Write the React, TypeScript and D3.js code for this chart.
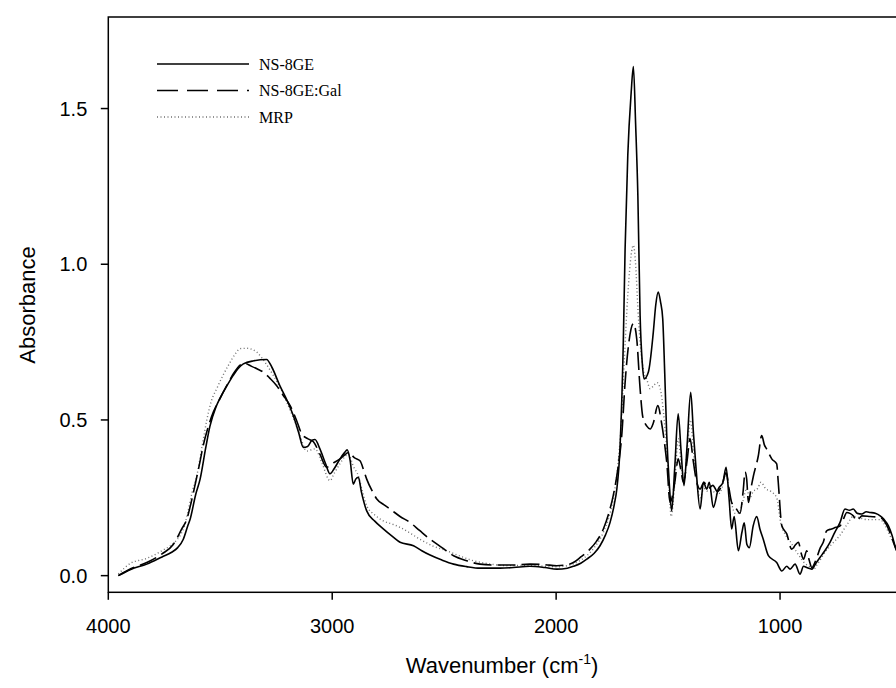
import React from "react";
import * as d3 from "d3";

// ---- Data (wavenumber cm^-1, absorbance) ----
const ns8geWn = [3955,3900,3828,3760,3717,3690,3665,3645,3635,3610,3590,3565,3546,3520,3501,3470,3442,3420,3397,3350,3293,3270,3234,3200,3174,3150,3129,3110,3090,3077,3055,3030,3010,2990,2965,2945,2933,2920,2906,2895,2883,2870,2846,2810,2772,2730,2697,2637,2600,2563,2510,2458,2400,2340,2250,2191,2117,2050,1997,1950,1923,1890,1863,1830,1804,1780,1759,1740,1729,1715,1700,1692,1680,1665,1655,1645,1635,1625,1615,1607,1588,1566,1555,1544,1534,1524,1515,1506,1495,1484,1470,1455,1442,1429,1415,1399,1387,1375,1357,1342,1327,1316,1298,1276,1255,1241,1228,1216,1205,1186,1170,1160,1148,1137,1120,1104,1090,1075,1052,1015,992,970,955,933,911,895,881,858,840,821,800,777,755,732,710,690,673,655,635,615,598,575,553,535,516,500,482,460];
const ns8geAbs = [0.0,0.02,0.037,0.06,0.075,0.09,0.117,0.16,0.18,0.26,0.31,0.41,0.48,0.54,0.57,0.61,0.643,0.665,0.68,0.69,0.694,0.67,0.61,0.56,0.514,0.46,0.412,0.415,0.435,0.437,0.407,0.36,0.327,0.345,0.375,0.395,0.404,0.37,0.294,0.31,0.316,0.27,0.208,0.175,0.15,0.125,0.107,0.096,0.08,0.066,0.05,0.037,0.029,0.024,0.024,0.026,0.03,0.026,0.021,0.024,0.03,0.04,0.053,0.072,0.096,0.13,0.171,0.23,0.278,0.407,0.75,1.05,1.35,1.55,1.635,1.45,1.22,0.836,0.68,0.632,0.654,0.782,0.87,0.911,0.88,0.825,0.65,0.45,0.3,0.208,0.35,0.52,0.4,0.289,0.42,0.589,0.46,0.343,0.214,0.3,0.278,0.3,0.219,0.278,0.3,0.348,0.25,0.15,0.19,0.08,0.14,0.17,0.1,0.09,0.16,0.19,0.15,0.117,0.064,0.042,0.015,0.03,0.021,0.037,0.005,0.03,0.026,0.021,0.04,0.059,0.08,0.107,0.14,0.171,0.214,0.21,0.214,0.2,0.198,0.205,0.203,0.2,0.192,0.18,0.16,0.13,0.085,0.06];

const galWn = [3955,3900,3828,3760,3710,3672,3650,3630,3613,3595,3576,3555,3531,3500,3471,3440,3410,3397,3360,3330,3308,3280,3248,3220,3188,3160,3136,3110,3084,3055,3025,3000,2965,2940,2928,2900,2876,2860,2846,2820,2801,2770,2742,2697,2653,2610,2563,2510,2458,2400,2340,2260,2191,2117,2050,1997,1950,1923,1890,1849,1820,1789,1765,1745,1725,1707,1692,1675,1655,1640,1625,1613,1595,1580,1566,1546,1529,1515,1506,1491,1470,1455,1443,1432,1415,1402,1388,1375,1357,1340,1320,1300,1280,1260,1241,1228,1216,1200,1179,1165,1156,1149,1141,1130,1119,1097,1082,1070,1060,1037,1015,1008,992,970,948,930,918,905,895,881,870,858,840,820,807,792,770,750,732,715,702,688,673,658,645,635,598,553,530,516,500,482,460];
const galAbs = [0.0,0.022,0.042,0.07,0.1,0.15,0.18,0.235,0.29,0.35,0.418,0.475,0.525,0.57,0.61,0.65,0.677,0.683,0.672,0.662,0.654,0.635,0.61,0.58,0.546,0.5,0.455,0.44,0.43,0.39,0.348,0.36,0.375,0.39,0.396,0.378,0.369,0.34,0.31,0.27,0.246,0.228,0.214,0.19,0.171,0.145,0.117,0.09,0.064,0.048,0.037,0.034,0.034,0.037,0.035,0.032,0.035,0.042,0.06,0.085,0.11,0.15,0.2,0.257,0.34,0.45,0.62,0.75,0.81,0.76,0.6,0.51,0.48,0.471,0.49,0.546,0.49,0.42,0.364,0.235,0.3,0.375,0.34,0.3,0.37,0.44,0.37,0.31,0.278,0.3,0.28,0.29,0.27,0.29,0.33,0.28,0.235,0.22,0.2,0.27,0.333,0.31,0.235,0.28,0.32,0.385,0.45,0.42,0.407,0.375,0.359,0.3,0.16,0.134,0.085,0.1,0.107,0.07,0.053,0.08,0.05,0.026,0.05,0.09,0.107,0.144,0.15,0.155,0.16,0.185,0.203,0.2,0.192,0.176,0.185,0.192,0.19,0.187,0.17,0.15,0.12,0.085,0.06];

const mrpWn = [3955,3900,3830,3760,3700,3680,3660,3646,3625,3605,3580,3560,3540,3516,3490,3460,3430,3412,3380,3337,3300,3263,3230,3203,3170,3144,3114,3090,3077,3045,3010,2990,2965,2940,2928,2905,2883,2865,2846,2810,2772,2730,2697,2608,2550,2489,2430,2370,2300,2221,2117,2050,1997,1950,1923,1890,1863,1830,1789,1765,1745,1725,1710,1695,1680,1665,1655,1645,1635,1625,1610,1595,1580,1565,1550,1535,1520,1506,1495,1486,1470,1455,1443,1430,1415,1400,1387,1375,1357,1340,1320,1300,1280,1260,1241,1228,1216,1200,1185,1165,1150,1135,1120,1100,1085,1065,1040,1015,997,975,955,930,911,890,870,851,835,821,800,770,732,700,673,640,613,580,553,530,510,482,460];
const mrpAbs = [0.005,0.04,0.055,0.08,0.11,0.128,0.16,0.2,0.27,0.32,0.42,0.5,0.56,0.6,0.64,0.68,0.715,0.729,0.73,0.718,0.685,0.643,0.6,0.557,0.5,0.45,0.4,0.405,0.407,0.36,0.305,0.33,0.36,0.385,0.39,0.35,0.32,0.27,0.225,0.195,0.176,0.165,0.155,0.117,0.095,0.08,0.063,0.048,0.038,0.032,0.033,0.03,0.028,0.032,0.038,0.05,0.064,0.09,0.139,0.185,0.246,0.35,0.48,0.7,0.9,1.03,1.061,1.0,0.86,0.75,0.66,0.63,0.6,0.61,0.62,0.6,0.52,0.4,0.27,0.19,0.3,0.44,0.37,0.3,0.4,0.5,0.4,0.32,0.25,0.28,0.27,0.27,0.26,0.28,0.33,0.27,0.23,0.2,0.2,0.24,0.28,0.25,0.27,0.28,0.3,0.28,0.27,0.25,0.17,0.13,0.11,0.08,0.06,0.04,0.03,0.02,0.035,0.05,0.075,0.1,0.13,0.165,0.19,0.185,0.18,0.18,0.18,0.16,0.13,0.09,0.06];

const xTicks = [4000, 3000, 2000, 1000];
const yTicks = [0, 0.5, 1.0, 1.5];
const legendLabels = ["NS-8GE", "NS-8GE:Gal", "MRP"];

export default function App() {
  const W = 896, H = 688;
  const left = 108.3, right = 914.4, top = 17, bottom = 592.3;
  const x = d3.scaleLinear().domain([4000, 400]).range([left, right]);
  const y = d3.scaleLinear().domain([-0.0535, 1.794]).range([bottom, top]);

  const mk = (wn: number[], ab: number[]) =>
    d3.line<number>()
      .x((_, i) => x(wn[i]))
      .y((d) => y(d))
      .curve(d3.curveMonotoneX)(ab) || "";

  const series = [
    { path: mk(mrpWn, mrpAbs), stroke: "#6f6f6f", width: 1.4, dash: "1,2.5" },
    { path: mk(galWn, galAbs), stroke: "#000", width: 1.6, dash: "18,6" },
    { path: mk(ns8geWn, ns8geAbs), stroke: "#000", width: 1.6, dash: undefined },
  ];

  const legendStyles = [
    { stroke: "#000", width: 1.5, dash: undefined },
    { stroke: "#000", width: 1.5, dash: "21,9" },
    { stroke: "#6f6f6f", width: 1.3, dash: "1,2.5" },
  ];

  const sans = "'Liberation Sans', Arial, sans-serif";
  const serif = "'Liberation Serif', 'Times New Roman', serif";

  return (
    <div style={{ position: "absolute", left: 0, top: 0 }}>
      <svg width={W} height={H} style={{ display: "block", background: "#fff" }}>
        <defs>
          <clipPath id="plotClip">
            <rect x={left} y={top} width={right - left} height={bottom - top} />
          </clipPath>
        </defs>
        {/* frame */}
        <rect x={left} y={top} width={right - left} height={bottom - top} fill="none" stroke="#000" strokeWidth={1.5} />
        {/* x ticks */}
        {xTicks.map((t) => (
          <g key={t}>
            <line x1={x(t)} x2={x(t)} y1={bottom} y2={bottom + 7.5} stroke="#000" strokeWidth={1.5} />
            <text x={x(t)} y={bottom + 41} textAnchor="middle" fontFamily={sans} fontSize={20}>
              {t}
            </text>
          </g>
        ))}
        {/* y ticks */}
        {yTicks.map((t) => (
          <g key={t}>
            <line x1={left - 7.5} x2={left} y1={y(t)} y2={y(t)} stroke="#000" strokeWidth={1.5} />
            <text x={left - 21} y={y(t) + 7} textAnchor="end" fontFamily={sans} fontSize={20}>
              {t.toFixed(1)}
            </text>
          </g>
        ))}
        {/* axis titles */}
        <text x={502} y={673} textAnchor="middle" fontFamily={sans} fontSize={22}>
          Wavenumber (cm
          <tspan dy={-9} fontSize={14}>-1</tspan>
          <tspan dy={9}>)</tspan>
        </text>
        <text transform={`translate(35,${305}) rotate(-90)`} textAnchor="middle" fontFamily={sans} fontSize={22}>
          Absorbance
        </text>
        {/* curves */}
        <g clipPath="url(#plotClip)">
          {series.map((s, i) => (
            <path key={i} d={s.path} fill="none" stroke={s.stroke} strokeWidth={s.width} strokeDasharray={s.dash} strokeLinejoin="round" />
          ))}
        </g>
        {/* legend */}
        {legendLabels.map((l, i) => (
          <g key={l}>
            <line x1={157} x2={249} y1={64 + i * 26.5} y2={64 + i * 26.5} stroke={legendStyles[i].stroke} strokeWidth={legendStyles[i].width} strokeDasharray={legendStyles[i].dash} />
            <text x={259} y={64 + i * 26.5 + 5.5} fontFamily={serif} fontSize={16}>
              {l}
            </text>
          </g>
        ))}
      </svg>
    </div>
  );
}
